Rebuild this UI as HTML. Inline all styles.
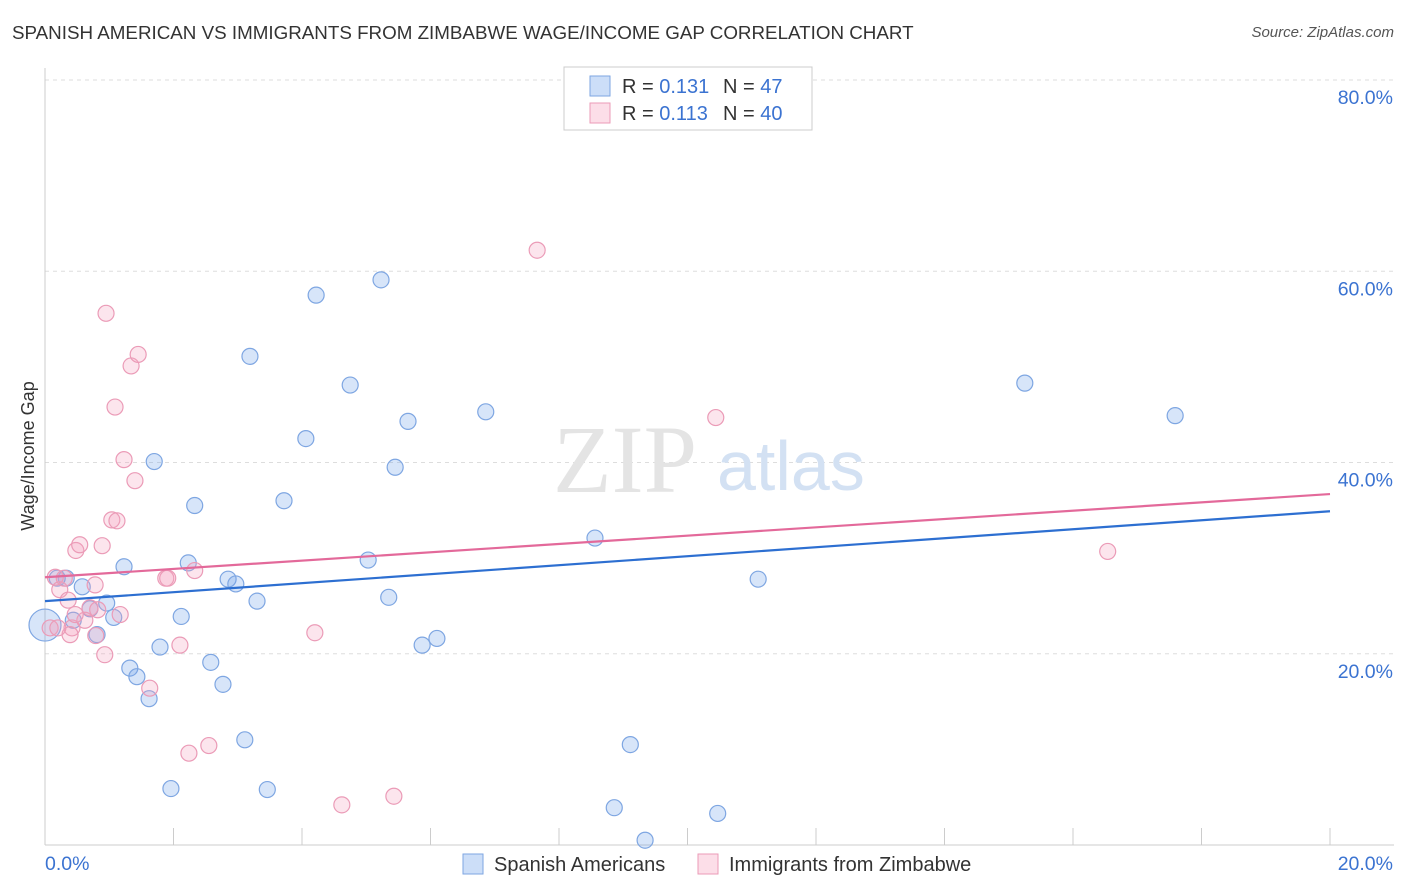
<!DOCTYPE html>
<html><head><meta charset="utf-8">
<style>
body{margin:0;background:#fff;font-family:"Liberation Sans",sans-serif;}
#wrap{position:relative;width:1406px;height:892px;overflow:hidden;}
.t{position:absolute;white-space:nowrap;}
</style></head>
<body>
<div id="wrap">
<div class="t" style="left:12px;top:22px;font-size:18.8px;color:#333;">SPANISH AMERICAN VS IMMIGRANTS FROM ZIMBABWE WAGE/INCOME GAP CORRELATION CHART</div>
<div class="t" style="right:12px;top:24px;font-size:15px;color:#555;font-style:italic;">Source: ZipAtlas.com</div>
<svg id="svg" width="1406" height="892" style="position:absolute;left:0;top:0"></svg>
</div>
<script>
const yTicks=[20,40,60,80];
const xTickVals=[0,2,4,6,8,10,12,14,16,18,20];
const blueX=[0.00,0.19,0.33,0.58,0.44,0.81,0.70,0.96,1.07,1.23,1.32,1.43,1.62,1.70,1.79,1.96,2.12,2.23,2.33,2.58,2.77,2.85,2.97,3.11,3.19,3.30,3.46,3.72,4.06,4.22,4.75,5.03,5.23,5.35,5.45,5.65,5.87,6.10,6.86,8.56,8.86,9.11,9.34,10.47,11.10,15.25,17.59];
const blueY=[23.0,27.9,27.9,27.0,23.5,22.0,24.7,25.3,23.8,29.1,18.5,17.6,15.3,40.1,20.7,5.9,23.9,29.5,35.5,19.1,16.8,27.8,27.3,11.0,51.1,25.5,5.8,36.0,42.5,57.5,48.1,29.8,59.1,25.9,39.5,44.3,20.9,21.6,45.3,32.1,3.9,10.5,0.5,3.3,27.8,48.3,44.9];
const pinkX=[0.08,0.16,0.23,0.30,0.36,0.42,0.39,0.48,0.54,0.62,0.70,0.78,0.82,0.89,0.93,0.95,1.04,1.09,1.12,1.17,1.23,1.34,1.40,1.45,1.63,1.88,1.91,2.10,2.24,2.33,2.55,4.20,4.62,5.43,7.66,10.44,16.54,0.20,0.47,0.79];
const pinkY=[22.7,28.0,26.7,27.9,25.6,22.7,22.0,30.8,31.4,23.5,24.8,27.2,24.6,31.3,19.9,55.6,34.0,45.8,33.9,24.1,40.3,50.1,38.1,51.3,16.4,27.9,27.9,20.9,9.6,28.7,10.4,22.2,4.2,5.1,62.2,44.7,30.7,22.7,24.1,21.9];
const blueTrend=[25.5,34.9];
const pinkTrend=[28.0,36.7];

const X=v=>45+v*64.25, Y=v=>845-v*9.5625;
const svg=document.getElementById('svg');
const NS='http://www.w3.org/2000/svg';
function mk(tag,attrs,parent){const e=document.createElementNS(NS,tag);for(const k in attrs)e.setAttribute(k,attrs[k]);(parent||svg).appendChild(e);return e;}

yTicks.forEach(v=>{
  const g=mk('line',{x1:45,x2:1394,y1:Y(v),y2:Y(v),stroke:'#ddd','stroke-dasharray':'4,4'});
  
  
  const t=mk('text',{x:1393,y:Y(v)+24,'text-anchor':'end','font-size':19.5,fill:'#3b73d1','font-family':'Liberation Sans, sans-serif'});
  t.textContent=v.toFixed(1)+'%';
  
  
});
const ax=mk('line',{x1:45,x2:1394,y1:845,y2:845,stroke:'#ccc'});


const ay=mk('line',{x1:45,x2:45,y1:68,y2:845,stroke:'#ccc'});


xTickVals.forEach(v=>{
  const tk=mk('line',{x1:X(v),x2:X(v),y1:828,y2:845,stroke:'#ccc'});
  
  
});
[[0,'start',45],[20,'end',1393]].forEach(([v,a,x])=>{
  const t=mk('text',{x:x,y:870,'text-anchor':a,'font-size':19.5,fill:'#3b73d1','font-family':'Liberation Sans, sans-serif'});
  t.textContent=v.toFixed(1)+'%';
  
  
});
const yt=mk('text',{x:0,y:0,transform:'translate(34,456) rotate(-90)','text-anchor':'middle','font-size':18,fill:'#333','font-family':'Liberation Sans, sans-serif'});
yt.textContent='Wage/Income Gap';


const w1=mk('text',{x:553,y:492,'font-size':96,fill:'#e4e4e4','font-family':'Liberation Serif, serif'});
w1.textContent='ZIP';


const w2=mk('text',{x:717,y:490,'font-size':70,fill:'#d3e1f3','font-family':'Liberation Sans, sans-serif'});
w2.textContent='atlas';



blueX.forEach((x,i)=>{
  const c=mk('circle',{cx:X(x),cy:Y(blueY[i]),r:i===0?16:8,fill:'rgba(110,160,235,0.28)',stroke:'#7ea6e2','stroke-width':1.2});
  
  
});
pinkX.forEach((x,i)=>{
  const c=mk('circle',{cx:X(x),cy:Y(pinkY[i]),r:8,fill:'rgba(245,160,190,0.28)',stroke:'#eb9bb7','stroke-width':1.2});
  
  
});
const bl=mk('line',{x1:X(0),y1:Y(blueTrend[0]),x2:X(20),y2:Y(blueTrend[1]),stroke:'#2d6fd1','stroke-width':2.2});


const pl=mk('line',{x1:X(0),y1:Y(pinkTrend[0]),x2:X(20),y2:Y(pinkTrend[1]),stroke:'#e3699a','stroke-width':2.2});



const lg=mk('rect',{x:564,y:67,width:248,height:63,fill:'#fff',stroke:'#ccc'});


[['0.131','47','rgba(110,160,235,0.35)','#7ea6e2',76],['0.113','40','rgba(245,160,190,0.35)','#eb9bb7',103]].forEach(([r,n,f,s,y])=>{
  const sq=mk('rect',{x:590,y:y,width:20,height:20,fill:f,stroke:s});
  
  
  const t=mk('text',{x:622,y:y+17,'font-size':20,fill:'#333','font-family':'Liberation Sans, sans-serif'});
  t.innerHTML='R = <tspan fill="#3b73d1">'+r+'</tspan>';
  
  
  const t2=mk('text',{x:723,y:y+17,'font-size':20,fill:'#333','font-family':'Liberation Sans, sans-serif'});
  t2.innerHTML='N =  <tspan fill="#3b73d1">'+n+'</tspan>';
  t2.setAttribute('xml:space','preserve');
  
  
});
[['Spanish Americans','rgba(110,160,235,0.35)','#7ea6e2',463],['Immigrants from Zimbabwe','rgba(245,160,190,0.35)','#eb9bb7',698]].forEach(([l,f,s,x])=>{
  const sq=mk('rect',{x:x,y:854,width:20,height:20,fill:f,stroke:s});
  
  
  const t=mk('text',{x:x+31,y:871,'font-size':20,fill:'#333','font-family':'Liberation Sans, sans-serif'});
  t.textContent=l;
  
  
});
</script>
</body></html>
